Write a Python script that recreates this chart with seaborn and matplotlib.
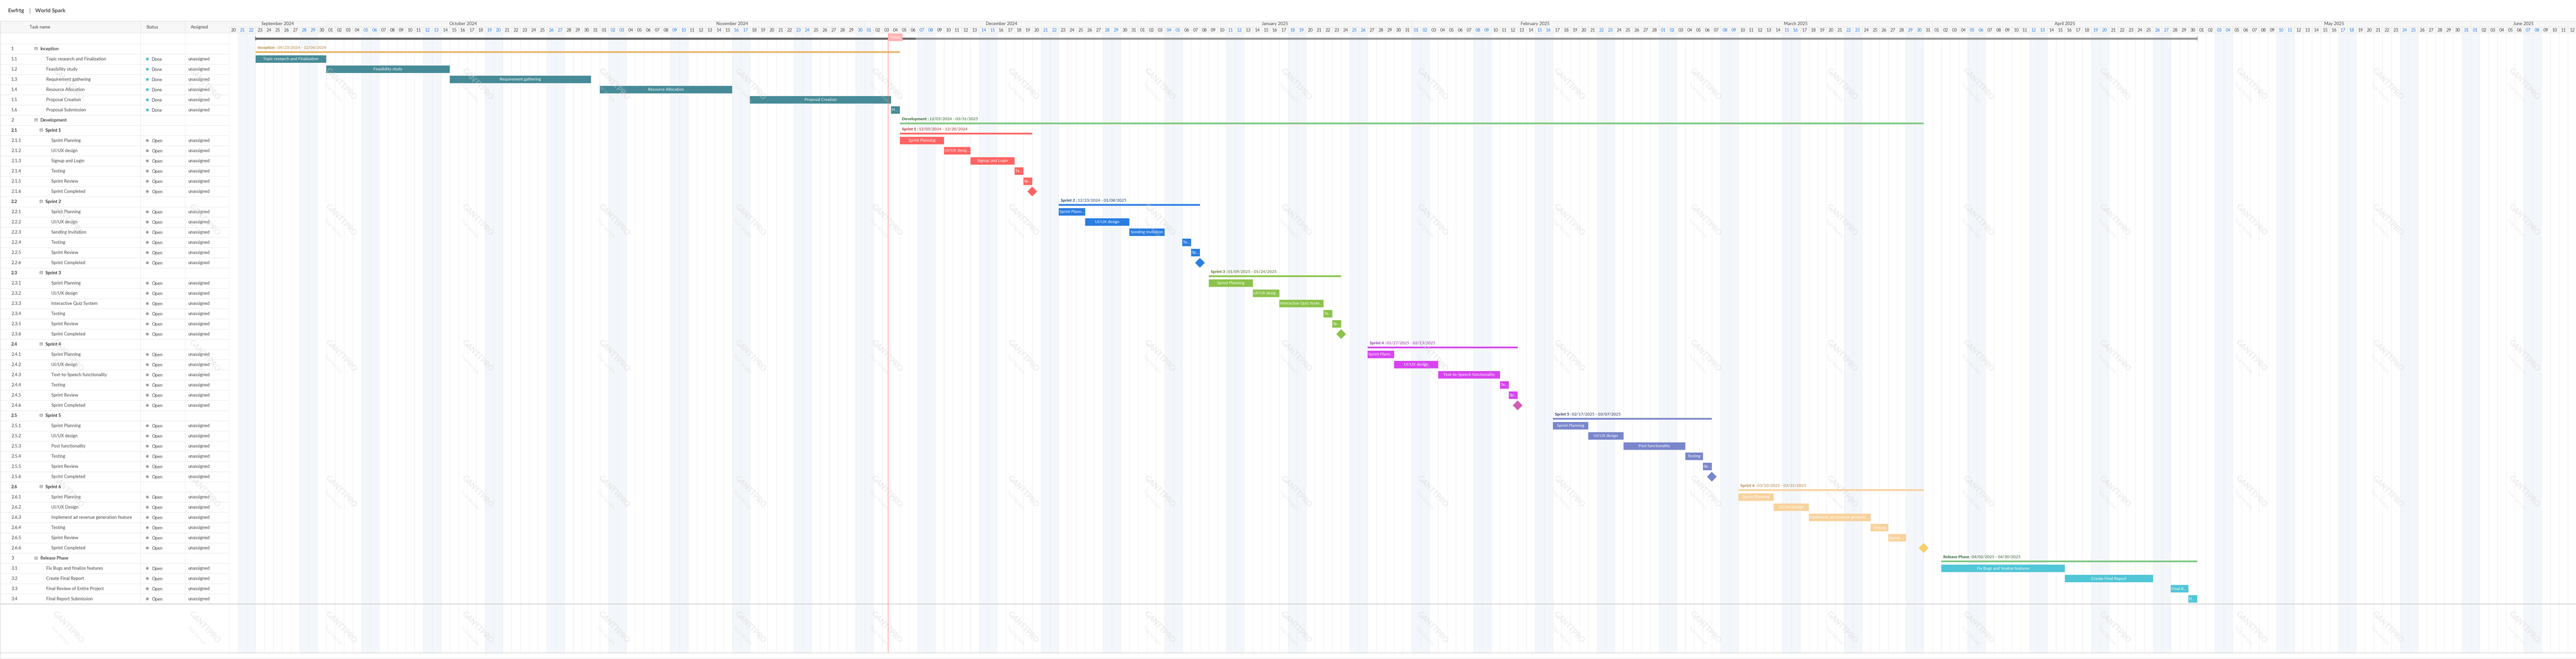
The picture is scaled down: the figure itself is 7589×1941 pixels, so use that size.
import matplotlib
matplotlib.use("Agg")
import matplotlib.pyplot as plt
import matplotlib.dates as mdates
from matplotlib.lines import Line2D
import numpy as np
import pandas as pd
import seaborn as sns

W, H, DPI = 7589, 1941, 100

# ---------------- data ----------------
title_left = "Ewfrtg"
title_right = "World Spark"
col_headers = ["Task name", "Status", "Assigned"]

view_start = "2024-09-20"
view_days = 265.92
project_start = "2024-09-23"
project_end = "2025-05-01"
project_progress = "2024-12-06 19:00"
today = "2024-12-03 15:30"

wbs = ["1", "1.1", "1.2", "1.3", "1.4", "1.5", "1.6",
       "2", "2.1", "2.1.1", "2.1.2", "2.1.3", "2.1.4", "2.1.5", "2.1.6",
       "2.2", "2.2.1", "2.2.2", "2.2.3", "2.2.4", "2.2.5", "2.2.6",
       "2.3", "2.3.1", "2.3.2", "2.3.3", "2.3.4", "2.3.5", "2.3.6",
       "2.4", "2.4.1", "2.4.2", "2.4.3", "2.4.4", "2.4.5", "2.4.6",
       "2.5", "2.5.1", "2.5.2", "2.5.3", "2.5.4", "2.5.5", "2.5.6",
       "2.6", "2.6.1", "2.6.2", "2.6.3", "2.6.4", "2.6.5", "2.6.6",
       "3", "3.1", "3.2", "3.3", "3.4"]

names = ["Inception", "Topic research and Finalization", "Feasibility study",
         "Requirement gathering", "Resource Allocation", "Proposal Creation",
         "Proposal Submission",
         "Development",
         "Sprint 1", "Sprint Planning", "UI/UX design", "Signup and Login", "Testing",
         "Sprint Review", "Sprint Completed",
         "Sprint 2", "Sprint Planning", "UI/UX design", "Sending Invitation", "Testing",
         "Sprint Review", "Sprint Completed",
         "Sprint 3", "Sprint Planning", "UI/UX design", "Interactive Quiz System", "Testing",
         "Sprint Review", "Sprint Completed",
         "Sprint 4", "Sprint Planning", "UI/UX design", "Text-to-Speech functionality",
         "Testing", "Sprint Review", "Sprint Completed",
         "Sprint 5", "Sprint Planning", "UI/UX design", "Post functionality", "Testing",
         "Sprint Review", "Sprint Completed",
         "Sprint 6", "Sprint Planning", "UI/UX Design", "Implement ad revenue generation feature",
         "Testing", "Sprint Review", "Sprint Completed",
         "Release Phase", "Fix Bugs and finalize features", "Create Final Report",
         "Final Review of Entire Project", "Final Report Submission"]

SPR = ["sprint", "task", "task", "task", "task", "task", "milestone"]
kinds = (["phase"] + ["task"] * 6 + ["phase"] + SPR * 6 + ["phase"] + ["task"] * 4)

groups = (["inc"] * 7 + ["dev"] + ["s1"] * 7 + ["s2"] * 7 + ["s3"] * 7 + ["s4"] * 7
          + ["s5"] * 7 + ["s6"] * 7 + ["rel"] * 5)

status = ([""] + ["Done"] * 6 + [""] + ([""] + ["Open"] * 6) * 6 + [""] + ["Open"] * 4)

starts = ["2024-09-23", "2024-09-23", "2024-10-01", "2024-10-15", "2024-11-01", "2024-11-18", "2024-12-04",
          "2024-12-05",
          "2024-12-05", "2024-12-05", "2024-12-10", "2024-12-13", "2024-12-18", "2024-12-19", "2024-12-20",
          "2024-12-23", "2024-12-23", "2024-12-26", "2024-12-31", "2025-01-06", "2025-01-07", "2025-01-08",
          "2025-01-09", "2025-01-09", "2025-01-14", "2025-01-17", "2025-01-22", "2025-01-23", "2025-01-24",
          "2025-01-27", "2025-01-27", "2025-01-30", "2025-02-04", "2025-02-11", "2025-02-12", "2025-02-13",
          "2025-02-17", "2025-02-17", "2025-02-21", "2025-02-25", "2025-03-04", "2025-03-06", "2025-03-07",
          "2025-03-10", "2025-03-10", "2025-03-14", "2025-03-18", "2025-03-25", "2025-03-27", "2025-03-31",
          "2025-04-02", "2025-04-02", "2025-04-16", "2025-04-28", "2025-04-30"]

durations = [73, 8, 14, 16, 15, 16, 1,
             116,
             15, 5, 3, 5, 1, 1, 0,
             16, 3, 5, 4, 1, 1, 0,
             15, 5, 3, 5, 1, 1, 0,
             17, 3, 5, 7, 1, 1, 0,
             18, 4, 4, 7, 2, 1, 0,
             21, 4, 4, 7, 2, 2, 0,
             29, 14, 10, 2, 1]

date_ranges = {"Inception": "09/23/2024 - 12/04/2024",
               "Development": "12/05/2024 - 03/31/2025",
               "Sprint 1": "12/05/2024 - 12/20/2024",
               "Sprint 2": "12/23/2024 - 01/08/2025",
               "Sprint 3": "01/09/2025 - 01/24/2025",
               "Sprint 4": "01/27/2025 - 02/13/2025",
               "Sprint 5": "02/17/2025 - 03/07/2025",
               "Sprint 6": "03/10/2025 - 03/31/2025",
               "Release Phase": "04/02/2025 - 04/30/2025"}

# ---------------- styles ----------------
task_color = {"inc": "#468b97", "s1": "#ff6464", "s2": "#2a7de1", "s3": "#8bc34a",
              "s4": "#d743f0", "s5": "#7986cb", "s6": "#f8d29d", "rel": "#50c6d7"}
summary_color = {"inc": "#e6b56c", "dev": "#80c783", "s1": "#ff6464", "s2": "#2a7de1",
                 "s3": "#8bc34a", "s4": "#d743f0", "s5": "#7986cb", "s6": "#f8d29d", "rel": "#80c783"}
summary_text = {"inc": "#b3813a", "dev": "#2b5e2b", "s1": "#a3282b", "s2": "#173b6b",
                "s3": "#4b6a1c", "s4": "#8a2c9c", "s5": "#262d5c", "s6": "#b08038", "rel": "#2b5e2b"}
milestone_color = {"s1": "#ff6464", "s2": "#2a7de1", "s3": "#8bc34a", "s4": "#d35db6",
                   "s5": "#7986cb", "s6": "#f8d06a"}
status_color = {"Done": "#4cbfd8", "Open": "#9e9e9e"}

PX = 0.72  # points per pixel at 100 dpi
FS_TAB = 13 * PX
FS_BAR = 12 * PX
FS_HEAD = 13 * PX

sns.set_theme(style="white")
plt.rcParams["font.family"] = ["Lato", "DejaVu Sans"]

df = pd.DataFrame(dict(wbs=wbs, name=names, kind=kinds, group=groups, status=status,
                       start=pd.to_datetime(starts), days=durations))
df["row"] = np.arange(1, len(df) + 1)
df["x0"] = mdates.date2num(df["start"].values)
df["x1"] = df["x0"] + df["days"]

v0 = mdates.date2num(np.datetime64(view_start))
v1 = v0 + view_days

fig = plt.figure(figsize=(W / DPI, H / DPI), dpi=DPI)
renderer = fig.canvas.get_renderer()


def rect(x0, y0, x1, y1):
    return [x0 / W, 1 - y1 / H, (x1 - x0) / W, (y1 - y0) / H]


TL, HT, HM, HB, BB = 675, 61, 79, 98, 1923
ROW0, ROWH = 114, 30
r_top = (HB - ROW0) / ROWH
r_bot = (BB - ROW0) / ROWH
DAY_PX = (W - TL) / view_days

ax_g = fig.add_axes(rect(TL, HB, W, BB))
ax_h = fig.add_axes(rect(TL, HT, W, HB))
ax_t = fig.add_axes(rect(0, HB, TL, BB))
ax_th = fig.add_axes(rect(0, HT, TL, HB))
for a in (ax_g, ax_h, ax_t, ax_th):
    a.set_axis_off()

# ---------- gantt background ----------
days_idx = np.arange(0, int(np.ceil(view_days)) + 1)
day_edges = v0 + days_idx
ax_g.vlines(day_edges, r_top, r_bot, colors="#ebebeb", lw=1 * PX, zorder=0.5)
dates_vis = pd.date_range(view_start, periods=int(np.ceil(view_days)), freq="D")
for d, x in zip(dates_vis, day_edges[:-1]):
    if d.weekday() >= 5:
        ax_g.axvspan(x, x + 1, color="#f3f6fa", lw=0, zorder=0.2)
ax_g.hlines([55.5], v0, v1, colors="#c9c9c9", lw=2 * PX, zorder=1)

# ---------- project row ----------
p0 = mdates.date2num(np.datetime64(project_start))
p1 = mdates.date2num(np.datetime64(project_end))
pp = mdates.date2num(np.datetime64(project_progress))
ax_g.barh(0, pp - p0, left=p0, height=6 / ROWH, color="#666666", lw=0, zorder=2)
ax_g.barh(0, p1 - pp, left=pp, height=6 / ROWH, color="#9a9a9a", lw=0, zorder=2)
ax_g.vlines([p0], -0.2, 0.17, colors="#666666", lw=2.5 * PX, zorder=2)
ax_g.vlines([p1], -0.2, 0.17, colors="#9a9a9a", lw=2.5 * PX, zorder=2)


def text_w(s, **kw):
    t = fig.text(0, 0, s, **kw)
    w = t.get_window_extent(renderer).width
    t.remove()
    return w


# ---------- summary rows ----------
summ = df[df["kind"].isin(["phase", "sprint"])]
for _, r in summ.iterrows():
    ax_g.barh(r.row + 0.317, r.days, left=r.x0, height=5 / ROWH,
              color=summary_color[r.group], lw=0, zorder=2)
    tc = summary_text[r.group]
    t1 = ax_g.text(r.x0 + 6 / DAY_PX, r.row - 0.1, r["name"], fontsize=FS_BAR,
                   fontweight="bold", color=tc, va="center", ha="left", zorder=3)
    t2 = ax_g.annotate("|", xy=(1, 0.5), xycoords=t1, xytext=(3 * PX, 0),
                       textcoords="offset points", fontsize=8 * PX, color=tc,
                       va="center", ha="left", zorder=3)
    ax_g.annotate(date_ranges[r["name"]], xy=(1, 0.5), xycoords=t2, xytext=(3 * PX, 0),
                  textcoords="offset points", fontsize=FS_BAR, color=tc,
                  va="center", ha="left", zorder=3)

# ---------- task bars ----------
tasks = df[df["kind"] == "task"]
for _, r in tasks.iterrows():
    c = task_color[r.group]
    ax_g.barh(r.row, r.days, left=r.x0, height=22 / ROWH, color=c, lw=0, zorder=2)
    bar_px = r.days * DAY_PX
    full = r["name"]
    if text_w(full, fontsize=FS_BAR) <= bar_px - 8:
        ax_g.text((r.x0 + r.x1) / 2, r.row, full, fontsize=FS_BAR, color="white",
                  ha="center", va="center", zorder=3)
    else:
        lab = "..."
        for k in range(len(full), 0, -1):
            cand = full[:k] + "..."
            if text_w(cand, fontsize=FS_BAR) <= bar_px - 3:
                lab = cand
                break
        ax_g.text(r.x0 + 2 / DAY_PX, r.row, lab, fontsize=FS_BAR, color="white",
                  ha="left", va="center", zorder=3, clip_on=False)

# ---------- milestones ----------
ms = df[df["kind"] == "milestone"]
sns.scatterplot(data=ms, x="x0", y="row", hue="group", palette=milestone_color,
                marker="D", s=215, linewidth=0, legend=False, ax=ax_g, zorder=4)

# ---------- today ----------
tx = mdates.date2num(np.datetime64(today))
ax_g.axvline(tx, color="#ff6b6b", lw=1.2 * PX, zorder=5)
ax_g.barh((-0.5 + 0.233) / 2, 43 / DAY_PX, left=tx, height=0.733, color="#ffb1b1",
          lw=0, zorder=6)
ax_g.text(tx + 43 / DAY_PX / 2, (-0.5 + 0.233) / 2, "Today", color="white",
          fontsize=FS_BAR, ha="center", va="center", zorder=7)

ax_g.set_xlim(v0, v1)
ax_g.set_ylim(r_bot, r_top)

# ---------- timeline header ----------
ax_h.set_xlim(v0, v1)
ax_h.set_ylim(HB, HT)
ax_h.axhspan(HT, HB, color="#f7f7f7", lw=0, zorder=0)
ax_h.hlines([HT + 0.5, HM], v0, v1, colors="#dcdcdc", lw=1 * PX)
ax_h.hlines([HB - 0.5], v0, v1, colors="#d6d6d6", lw=1.5 * PX)
ax_h.vlines(day_edges, HM, HB, colors="#e2e2e2", lw=1 * PX)
for d, x in zip(dates_vis, day_edges[:-1]):
    col = "#2a79e0" if d.weekday() >= 5 else "#444444"
    ax_h.text(x + 0.5, (HM + HB) / 2 + 0.5, d.strftime("%d"), ha="center", va="center",
              fontsize=FS_HEAD, color=col)
months = pd.period_range(view_start, periods=10, freq="M")
for m in months:
    ms0 = max(mdates.date2num(np.datetime64(m.start_time.date())), v0)
    ms1 = min(mdates.date2num(np.datetime64((m.end_time + pd.Timedelta(1, "ns")).date())), v1)
    if ms1 <= ms0:
        continue
    ax_h.vlines([ms1], HT, HM, colors="#dcdcdc", lw=1 * PX)
    ax_h.text((ms0 + ms1) / 2, (HT + HM) / 2 + 0.5, m.strftime("%B %Y"), ha="center",
              va="center", fontsize=FS_HEAD, color="#444444")

# ---------- table header ----------
ax_th.set_xlim(0, TL)
ax_th.set_ylim(HB, HT)
ax_th.axhspan(HT, HB, color="#f7f7f7", lw=0, zorder=0)
ax_th.hlines([HT + 0.5], 0, TL, colors="#dcdcdc", lw=1 * PX)
ax_th.hlines([HB - 0.5], 0, TL, colors="#d6d6d6", lw=1.5 * PX)
ax_th.vlines([414, 545], HT, HB, colors="#e0e0e0", lw=1 * PX)
ax_th.vlines([0.5], HT, HB, colors="#d0d0d0", lw=1 * PX)
ax_th.vlines([TL - 0.5], HT, HB, colors="#d6d6d6", lw=1 * PX)
for txt, x in zip(col_headers, [87, 431, 562]):
    ax_th.text(x, (HT + HB) / 2 + 1, txt, fontsize=FS_TAB, color="#444444", va="center", ha="left")

# ---------- table body ----------
ax_t.set_xlim(0, TL)
ax_t.set_ylim(r_bot, r_top)
ax_t.hlines(np.arange(0, 55) + 0.5, 0, TL, colors="#e4e4e4", lw=1 * PX)
ax_t.hlines([55.5], 0, TL, colors="#c9c9c9", lw=2 * PX)
ax_t.vlines([414, 545], r_top, 55.5, colors="#e4e4e4", lw=1 * PX)
ax_t.vlines([TL - 0.5], r_top, 55.5, colors="#dcdcdc", lw=1 * PX)
ax_t.vlines([0.5], r_top, r_bot, colors="#d0d0d0", lw=1 * PX)

name_x = {"phase": 119, "sprint": 134, "task": 136, "milestone": 151}
for _, r in df.iterrows():
    k = r.kind
    level3 = r.wbs.count(".") == 2
    if k == "phase":
        ax_t.text(33, r.row, r.wbs, fontsize=FS_TAB, color="#333333", va="center")
        ax_t.text(101, r.row, "\u229f", fontsize=13 * PX, color="#555555", va="center",
                  family="DejaVu Sans")
        ax_t.text(119, r.row, r["name"], fontsize=FS_TAB, color="#333333", va="center",
                  fontweight="semibold")
    elif k == "sprint":
        ax_t.text(33, r.row, r.wbs, fontsize=FS_TAB, color="#333333", va="center",
                  fontweight="bold")
        ax_t.text(116, r.row, "\u229f", fontsize=13 * PX, color="#555555", va="center",
                  family="DejaVu Sans")
        ax_t.text(134, r.row, r["name"], fontsize=FS_TAB, color="#333333", va="center",
                  fontweight="bold")
    else:
        ax_t.text(33, r.row, r.wbs, fontsize=FS_TAB, color="#444444", va="center")
        ax_t.text(151 if level3 else 136, r.row, r["name"], fontsize=FS_TAB,
                  color="#444444", va="center")
        ax_t.text(447, r.row + 0.05, r.status, fontsize=FS_TAB, color="#444444", va="center")
        ax_t.text(554, r.row, "unassigned", fontsize=FS_TAB, color="#444444", va="center")

st = df[df["status"] != ""].copy()
st["dot_x"] = 434
sns.scatterplot(data=st, x="dot_x", y="row", hue="status", palette=status_color,
                s=36, linewidth=0, legend=False, ax=ax_t, zorder=3)
ax_t.set_xlim(0, TL)
ax_t.set_ylim(r_bot, r_top)

# ---------- frame, title, footer ----------
fig.add_artist(Line2D([0, 1], [1 - BB / H] * 2, color="#cfcfcf", lw=1.5 * PX))
fig.add_artist(Line2D([0.5 / W] * 2, [0, 1 - BB / H], color="#d0d0d0", lw=1 * PX))
fig.add_artist(Line2D([0, 1], [0.6 / H] * 2, color="#d9d9d9", lw=1 * PX))

fig.text(24 / W, 1 - 32 / H, title_left, fontsize=16 * PX, color="#333333",
         fontweight="semibold", va="center", ha="left")
fig.add_artist(Line2D([88 / W] * 2, [1 - 23 / H, 1 - 40 / H], color="#555555", lw=1 * PX))
fig.text(104 / W, 1 - 32 / H, title_right, fontsize=16 * PX, color="#333333",
         fontweight="semibold", va="center", ha="left")

# ---------- trial watermarks ----------
for j in range(5):
    for k in range(19):
        cx, cy = 201 + 402 * k, 248 + 400 * j
        fig.text(cx / W, 1 - cy / H, "GANTTPRO", fontsize=22 * PX, fontweight="bold",
                 color="#d4d4d4", alpha=0.45, rotation=-46, rotation_mode="anchor",
                 ha="center", va="center", zorder=20)
        fig.text((cx - 24) / W, 1 - (cy + 24) / H, "Trial Version", fontsize=13 * PX,
                 color="#d4d4d4", alpha=0.45, rotation=-46, rotation_mode="anchor",
                 ha="center", va="center", zorder=20)

fig.savefig("out.png", dpi=DPI, facecolor="white")
